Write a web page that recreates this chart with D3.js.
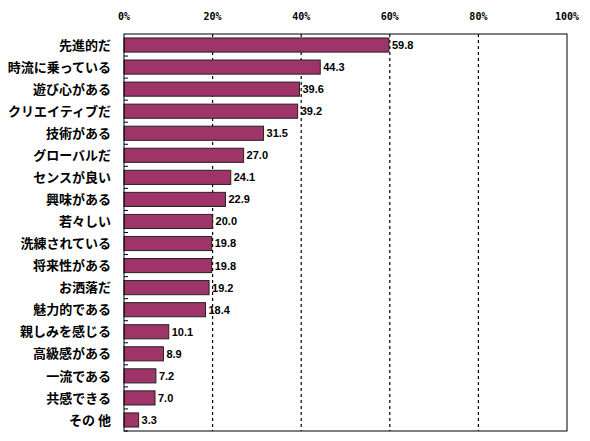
<!DOCTYPE html>
<html>
<head>
<meta charset="utf-8">
<script src="https://cdn.jsdelivr.net/npm/d3@7"></script>
<style>
  body { margin: 0; background: #fff; }
  svg text { font-family: "Noto Sans CJK JP", sans-serif; }
</style>
</head>
<body>
<div id="chart"></div>
<script>
// Data
const categories = ["先進的だ", "時流に乗っている", "遊び心がある", "クリエイティブだ", "技術がある",
  "グローバルだ", "センスが良い", "興味がある", "若々しい", "洗練されている", "将来性がある",
  "お洒落だ", "魅力的である", "親しみを感じる", "高級感がある", "一流である", "共感できる", "その 他"];
const values = [59.8, 44.3, 39.6, 39.2, 31.5, 27.0, 24.1, 22.9, 20.0, 19.8, 19.8, 19.2, 18.4, 10.1, 8.9, 7.2, 7.0, 3.3];
const tickValues = [0, 20, 40, 60, 80, 100];

const width = 590, height = 441;
const margin = { top: 34, right: 23, bottom: 10, left: 124 };
const innerW = width - margin.left - margin.right;
const innerH = height - margin.top - margin.bottom;

const svg = d3.select("#chart").append("svg")
  .attr("width", width).attr("height", height);
const g = svg.append("g").attr("transform", `translate(${margin.left},${margin.top})`);

const x = d3.scaleLinear().domain([0, 100]).range([0, innerW]);
const y = d3.scaleBand().domain(categories).range([0, innerH]).paddingInner(0.36).paddingOuter(0.18);

// Dashed grid lines
g.selectAll(".grid").data(tickValues.filter(d => d > 0 && d < 100)).enter()
  .append("line")
  .attr("x1", d => x(d)).attr("x2", d => x(d))
  .attr("y1", 0).attr("y2", innerH)
  .attr("stroke", "#000").attr("stroke-width", 1.2)
  .attr("stroke-dasharray", "3 3");

// Top axis labels
g.selectAll(".tick-label").data(tickValues).enter()
  .append("text")
  .attr("x", d => x(d)).attr("y", -14)
  .attr("text-anchor", "middle")
  .style("font-family", "'DejaVu Sans Mono', monospace")
  .style("font-size", "10px").style("font-weight", "bold")
  .text(d => d + "%");

// Bars
g.selectAll("rect.bar").data(values).enter()
  .append("rect")
  .attr("x", 0)
  .attr("y", (d, i) => y(categories[i]))
  .attr("width", d => x(d))
  .attr("height", y.bandwidth())
  .attr("fill", "#9e3468")
  .attr("stroke", "#222").attr("stroke-width", 1);

// Value labels
g.selectAll(".val").data(values).enter()
  .append("text")
  .attr("x", d => x(d) + 3)
  .attr("y", (d, i) => y(categories[i]) + y.bandwidth() / 2)
  .attr("dy", "0.36em")
  .style("font-family", "'Liberation Sans', Arial, sans-serif")
  .style("font-size", "11px").style("font-weight", "bold")
  .text(d => d.toFixed(1));

// Category labels
g.selectAll(".cat").data(categories).enter()
  .append("text")
  .attr("x", -13)
  .attr("y", d => y(d) + y.bandwidth() / 2)
  .attr("dy", "0.36em")
  .attr("text-anchor", "end")
  .style("font-size", "13px").style("font-weight", "bold")
  .text(d => d);

// Left-axis tick marks at band boundaries
g.selectAll(".ytick").data(categories).enter()
  .append("line")
  .attr("x1", 0).attr("x2", 4)
  .attr("y1", d => y(d) + y.bandwidth() + y.step() * y.paddingInner() / 2)
  .attr("y2", d => y(d) + y.bandwidth() + y.step() * y.paddingInner() / 2)
  .attr("stroke", "#000");

// Plot frame
g.append("rect")
  .attr("x", 0).attr("y", 0).attr("width", innerW).attr("height", innerH)
  .attr("fill", "none").attr("stroke", "#000").attr("stroke-width", 1);
</script>
</body>
</html>
